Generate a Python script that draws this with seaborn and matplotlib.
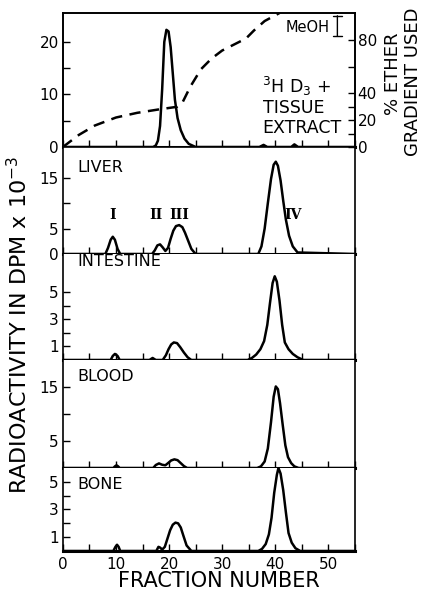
import matplotlib
matplotlib.use("Agg")
import matplotlib.pyplot as plt
import seaborn as sns
import pandas as pd

# ---------------- data ----------------
# Top panel: 3H D3 + tissue extract (DPM x 10^-3)
std_x = [0, 17, 17.5, 17.9, 18.3, 18.7, 19.1, 19.5, 19.9, 20.3, 20.7, 21.1, 21.6, 22.2,
         22.9, 23.7, 25, 37, 37.8, 38.5, 43, 43.6, 44.3, 55]
std_y = [0, 0, 0.3, 1.2, 4, 11, 20, 22.3, 22, 19, 14, 9, 5.5, 3.2,
         1.6, 0.6, 0, 0, 0.4, 0, 0, 0.5, 0, 0]
# % ether gradient used (right axis)
grad_x = [0, 3, 6, 10, 14, 18, 21.5, 22.5, 24, 26, 28, 30, 33, 34.5, 36, 38, 40.8]
grad_y = [0, 9, 16, 22, 25.5, 28, 30, 33, 45, 58, 66, 72, 78, 81, 87, 94, 100]

liver_x = [0, 8, 8.5, 9.0, 9.4, 9.8, 10.3, 10.8, 16.8, 17.3, 17.8, 18.3, 18.8, 19.3,
           19.8, 20.3, 20.8, 21.3, 21.9, 22.5, 23.0, 23.6, 24.2, 25, 36.8, 37.4,
           38.0, 38.6, 39.2, 39.7, 40.1, 40.5, 41.0, 41.5, 42.0, 42.6, 43.3, 44.2, 55]
liver_y = [0, 0, 1.2, 2.8, 3.4, 2.8, 1.0, 0, 0, 0.7, 1.7, 1.9, 1.3, 0.6,
           1.2, 3.0, 4.6, 5.5, 5.7, 5.3, 4.2, 2.6, 1.0, 0, 0, 1.5,
           5, 10, 14.8, 17.6, 18.2, 17.4, 14.5, 10.5, 6.8, 3.6, 1.5, 0.3, 0]

intest_x = [0, 9, 9.4, 9.8, 10.3, 10.7, 16.3, 16.9, 17.5, 18.8, 19.4, 19.9, 20.4,
            20.9, 21.5, 22.1, 22.8, 23.5, 24.2, 34.8, 35.6, 36.4, 37.2, 37.9, 38.5,
            39.0, 39.5, 39.9, 40.3, 40.8, 41.3, 41.8, 42.5, 43.3, 44.2, 45.3, 55]
intest_y = [0, 0, 0.3, 0.45, 0.3, 0, 0, 0.15, 0, 0, 0.35, 0.8, 1.15,
            1.3, 1.25, 0.95, 0.55, 0.2, 0, 0, 0.15, 0.4, 0.8, 1.4, 2.6,
            4.2, 5.7, 6.2, 5.8, 4.4, 2.6, 1.3, 0.8, 0.45, 0.2, 0, 0]

blood_x = [0, 9.5, 9.8, 10.1, 10.4, 10.7, 17, 17.5, 18.1, 18.7, 19.3, 19.8, 20.4,
           21.0, 21.6, 22.2, 22.8, 23.4, 36.6, 37.3, 38.0, 38.6, 39.2, 39.7, 40.1,
           40.5, 40.9, 41.4, 41.9, 42.4, 43.0, 43.6, 44.4, 55]
blood_y = [0, 0, 0.3, 0.5, 0.3, 0, 0, 0.55, 0.85, 0.6, 0.5, 0.9, 1.4,
           1.6, 1.45, 0.9, 0.35, 0, 0, 0.3, 1.2, 3.6, 8.5, 13.2, 15.1,
           14.6, 12, 8, 4.2, 2.0, 0.9, 0.3, 0, 0]

bone_x = [0, 9.5, 9.9, 10.2, 10.5, 10.8, 17.6, 18.0, 18.3, 18.7, 19.2, 19.7, 20.2,
          20.7, 21.2, 21.7, 22.2, 22.7, 23.3, 24.2, 36.8, 37.5, 38.2, 38.8, 39.3,
          39.8, 40.3, 40.6, 41.0, 41.5, 42.0, 42.5, 43.1, 43.8, 44.7, 55]
bone_y = [0, 0, 0.3, 0.45, 0.3, 0, 0, 0.3, 0.25, 0.1, 0.3, 0.9, 1.5,
          1.9, 2.05, 2.0, 1.7, 1.1, 0.4, 0, 0, 0.15, 0.5, 1.2, 2.4,
          4.2, 5.5, 6.0, 5.6, 4.4, 2.8, 1.3, 0.6, 0.2, 0, 0]

panel_names = ["", "LIVER", "INTESTINE", "BLOOD", "BONE"]
panel_ylim = [25.5, 21.1, 7.85, 20.0, 6.0]
panel_yticks = [[0, 5, 10, 15, 20], [0, 5, 10, 15], [1, 2, 3, 4, 5], [5, 10, 15], [1, 2, 3, 4, 5]]
panel_yticklabels = [["0", "", "10", "", "20"], ["0", "5", "", "15"], ["1", "", "3", "", "5"],
                     ["5", "", "15"], ["1", "", "3", "", "5"]]
grad_ticks = [0, 10, 20, 30, 40, 60, 80]
grad_ticklabels = ["0", "", "20", "", "40", "", "80"]
x_ticks = [0, 5, 10, 15, 20, 25, 30, 35, 40, 45, 50, 55]
x_ticklabels = ["0", "", "10", "", "20", "", "30", "", "40", "", "50", ""]
roman = ["I", "II", "III", "IV"]
roman_x = [9.4, 17.5, 22.0, 43.4]

series = [(std_x, std_y), (liver_x, liver_y), (intest_x, intest_y),
          (blood_x, blood_y), (bone_x, bone_y)]

# ---------------- styling ----------------
sns.set_theme(style="white")
plt.rcParams["font.family"] = ["DejaVu Sans"]
plt.rcParams["axes.edgecolor"] = "black"
plt.rcParams["axes.linewidth"] = 1.2
plt.rcParams["text.color"] = "black"
plt.rcParams["xtick.color"] = "black"
plt.rcParams["ytick.color"] = "black"

fig = plt.figure(figsize=(4.22, 5.91), dpi=100)
gs = fig.add_gridspec(5, 1, height_ratios=[134, 107, 106, 108, 83],
                      left=0.149, right=0.841, top=0.978, bottom=0.0677, hspace=0)
axes = [fig.add_subplot(gs[i]) for i in range(5)]

label_y = {1: 0.81, 2: 0.925, 3: 0.85, 4: 0.80}
for i, ax in enumerate(axes):
    xs, ys = series[i]
    df = pd.DataFrame({"fraction": xs, "dpm": ys})
    sns.lineplot(data=df, x="fraction", y="dpm", ax=ax, color="black",
                 linewidth=1.8, estimator=None, sort=False)
    ax.set_xlim(0, 55)
    ax.set_ylim(0, panel_ylim[i])
    ax.set_xlabel("")
    ax.set_ylabel("")
    ax.set_facecolor("white")
    ax.set_xticks(x_ticks)
    if i == 4:
        ax.set_xticklabels(x_ticklabels)
    else:
        ax.set_xticklabels([])
    ax.set_yticks(panel_yticks[i])
    ax.set_yticklabels(panel_yticklabels[i])
    ax.tick_params(axis="both", direction="in", length=5, width=1.0,
                   labelsize=11, pad=3, colors="black",
                   bottom=True, left=True, top=False, right=False)
    ax.tick_params(axis="x", pad=4)
    ax.spines["bottom"].set_linewidth(2.2)
    if i > 0:
        ax.spines["top"].set_visible(False)
    if panel_names[i]:
        ax.text(0.05, label_y[i], panel_names[i],
                transform=ax.transAxes, fontsize=11.5, ha="left", va="center")

# gradient on top panel (right axis)
ax2 = axes[0].twinx()
gdf = pd.DataFrame({"fraction": grad_x, "ether": grad_y})
sns.lineplot(data=gdf, x="fraction", y="ether", ax=ax2, color="black",
             linewidth=1.8, estimator=None, sort=False)
ax2.lines[-1].set_dashes([4.5, 3])
ax2.set_ylim(0, 100)
ax2.set_xlim(0, 55)
ax2.set_ylabel("")
ax2.set_yticks(grad_ticks)
ax2.set_yticklabels(grad_ticklabels)
ax2.tick_params(axis="y", direction="in", length=5, width=1.0, labelsize=11, pad=2,
                colors="black", right=True, left=False)
ax2.grid(False)

# MeOH bracket
ax2.annotate("", xy=(51.7, 100), xytext=(51.7, 80.5),
             arrowprops=dict(arrowstyle="|-|, widthA=0.25, widthB=0.25", lw=1.0, color="black"))
ax2.text(50.3, 89.5, "MeOH", ha="right", va="center", fontsize=10.5)

# tissue extract annotation
axes[0].text(0.683, 0.455, "$^3$H D$_3$ +", transform=axes[0].transAxes,
             fontsize=12.5, ha="left", va="center")
axes[0].text(0.686, 0.29, "TISSUE", transform=axes[0].transAxes,
             fontsize=12.5, ha="left", va="center")
axes[0].text(0.682, 0.14, "EXTRACT", transform=axes[0].transAxes,
             fontsize=12.5, ha="left", va="center")

# roman numerals for liver peaks
for lab, rx in zip(roman, roman_x):
    axes[1].text(rx, 7.7, lab, ha="center", va="center", fontsize=10,
                 family="DejaVu Serif", fontweight="bold")

# axis labels
fig.text(0.045, 0.45, "RADIOACTIVITY IN DPM x 10$^{-3}$", rotation=90,
         ha="center", va="center", fontsize=16)
fig.text(0.931, 0.875, "% ETHER", rotation=90, ha="center", va="center", fontsize=13)
fig.text(0.979, 0.861, "GRADIENT USED", rotation=90, ha="center", va="center", fontsize=13)
fig.text(0.519, 0.0165, "FRACTION NUMBER", ha="center", va="center", fontsize=15)

fig.savefig("out.png", dpi=100, facecolor="white")
